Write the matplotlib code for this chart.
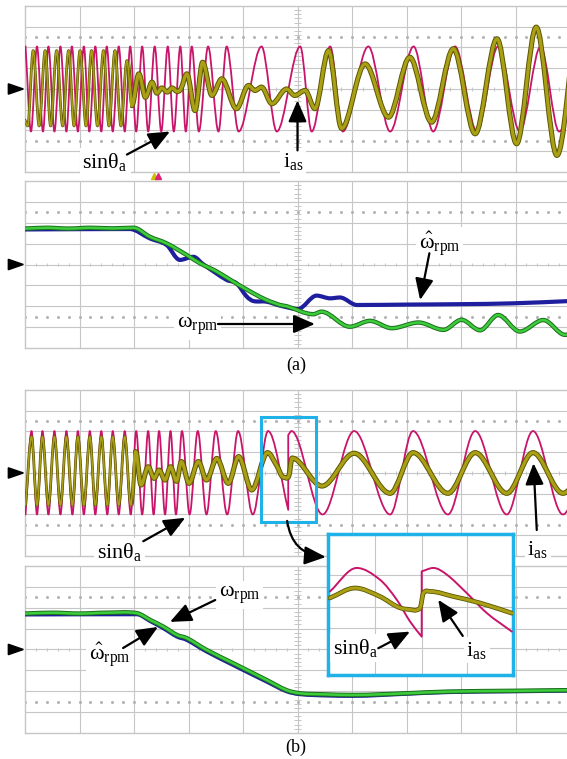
import numpy as np
import matplotlib
matplotlib.use('Agg')
import matplotlib.pyplot as plt
import matplotlib.patheffects as pe
from matplotlib.path import Path
from matplotlib.patches import PathPatch, Rectangle, Polygon

plt.rcParams['font.family'] = ['Liberation Serif', 'DejaVu Serif']
plt.rcParams['mathtext.fontset'] = 'stix'

# time axis in scope divisions (0..10), amplitudes in vertical divisions (-4..4)

# ---- (a) upper screen: sin(theta_a) reference and phase current ----
sin_a_peaks = [0.01, 0.22, 0.43, 0.65, 0.86, 1.08, 1.29, 1.50, 1.72, 1.93, 2.15, 2.38, 2.62,
               2.85, 3.06, 3.36, 3.70, 4.34, 5.05, 5.60, 6.30, 7.13, 7.89, 8.68, 9.46, 10.22]
sin_a_troughs = [0.11, 0.33, 0.54, 0.76, 0.97, 1.18, 1.40, 1.61, 1.83, 2.04, 2.26, 2.50, 2.73,
                 2.95, 3.19, 3.55, 3.92, 4.62, 5.26, 5.83, 6.70, 7.49, 8.29, 9.08, 9.80]
sin_a_hi, sin_a_lo = 2.05, -2.05

ias_a_t = [0.00, 0.05, 0.15, 0.26, 0.37, 0.47, 0.58, 0.69, 0.80, 0.90, 1.01, 1.12, 1.22, 1.33,
           1.44, 1.54, 1.65, 1.76, 1.87, 1.96, 2.09, 2.21, 2.33, 2.42, 2.51, 2.61, 2.70, 2.79,
           2.86, 2.97, 3.12, 3.26, 3.43, 3.61, 3.88, 4.10, 4.22, 4.34, 4.53, 4.80, 4.95, 5.14,
           5.32, 5.57, 5.81, 6.24, 6.67, 7.06, 7.46, 7.86, 8.26, 8.66, 9.02, 9.38, 9.76, 10.11]
ias_a_v = [-1.50, -1.78, 1.85, -1.78, 1.85, -1.78, 1.85, -1.78, 1.85, -1.78, 1.85, -1.78, 1.85,
           -1.78, 1.85, -1.78, 1.85, -1.78, 1.37, -0.80, 0.73, -0.40, 0.33, -0.20, 0.05, -0.15,
           0.05, -0.12, 0.00, 0.73, -1.04, 1.29, -0.31, 0.49, -0.95, 0.17, -0.07, 0.09, -0.71,
           0.00, -0.31, -0.07, -0.95, 1.85, -1.90, 1.21, -1.36, 1.53, -1.60, 1.94, -2.16, 2.42,
           -2.64, 2.98, -3.20, 3.30]

# ---- (a) lower screen: speed and estimated speed ----
w_a_t = [0.00, 0.40, 0.80, 1.20, 1.60, 1.99, 2.29, 2.60, 2.97, 3.21, 3.52, 3.82, 4.19, 4.43,
         4.68, 4.80, 5.29, 5.44, 5.96, 6.33, 6.73, 7.22, 7.68, 8.01, 8.35, 8.68, 9.08, 9.51,
         9.91, 10.30]
w_a_v = [1.72, 1.76, 1.72, 1.76, 1.73, 1.76, 1.33, 1.01, 0.45, 0.06, -0.34, -0.82, -1.38, -1.70,
         -1.94, -2.00, -2.38, -2.26, -2.98, -2.70, -3.05, -2.78, -3.13, -2.65, -3.15, -2.42,
         -3.21, -2.66, -3.37, -2.70]
west_a_t = [0.00, 1.92, 2.29, 2.60, 2.84, 3.09, 3.27, 3.70, 3.88, 4.07, 4.19, 4.43, 4.68, 5.01,
            5.35, 5.60, 5.78, 6.09, 7.00, 8.00, 8.95, 10.00]
west_a_v = [1.68, 1.70, 1.25, 0.93, 0.22, 0.37, 0.01, -0.74, -0.90, -1.54, -1.75, -1.78, -1.97,
            -2.13, -1.49, -1.62, -1.58, -1.94, -1.92, -1.90, -1.86, -1.75]

# ---- (b) upper screen ----
sin_b_t = [0.01, 0.12, 0.22, 0.32, 0.43, 0.54, 0.65, 0.76, 0.87, 0.97, 1.08, 1.19, 1.29, 1.40,
           1.51, 1.61, 1.72, 1.83, 1.94, 2.04, 2.15, 2.26, 2.36, 2.46, 2.57, 2.67, 2.77, 2.88,
           3.02, 3.17, 3.33, 3.50, 3.71, 3.91, 4.18, 4.46, 4.83, 4.83, 4.89, 5.46, 6.04, 6.70,
           7.12, 7.76, 8.26, 8.84, 9.32, 9.87, 10.37]
sin_b_v = [-2.00, 2.02, -2.00, 2.02, -2.00, 2.02, -2.00, 2.02, -2.00, 2.02, -2.00, 2.02, -2.00,
           2.02, -2.00, 2.02, -2.00, 2.02, -2.00, 2.02, -2.00, 2.02, -2.00, 2.02, -2.00, 2.02,
           -2.00, 2.02, -2.00, 2.02, -2.00, 2.02, -2.00, 2.02, -2.00, 2.02, -1.78, 1.83, 2.02,
           -2.00, 2.02, -2.00, 2.02, -2.00, 2.02, -2.00, 2.02, -2.00, 2.02]

ias_b_t = [0.01, 0.12, 0.22, 0.32, 0.43, 0.54, 0.65, 0.76, 0.87, 0.97, 1.08, 1.19, 1.29, 1.40,
           1.51, 1.61, 1.72, 1.83, 1.94, 2.03, 2.13, 2.26, 2.37, 2.46, 2.57, 2.67, 2.78, 2.87,
           3.01, 3.18, 3.33, 3.52, 3.73, 3.92, 4.16, 4.45, 4.62, 4.74, 4.84, 4.90, 5.45, 6.04,
           6.70, 7.12, 7.76, 8.26, 8.84, 9.32, 9.87, 10.37]
ias_b_v = [-1.55, 1.75, -1.55, 1.75, -1.55, 1.75, -1.55, 1.75, -1.55, 1.75, -1.55, 1.75, -1.55,
           1.75, -1.55, 1.75, -1.55, 1.75, -1.55, 1.03, -0.58, 0.30, -0.26, 0.14, -0.34, 0.30,
           -0.40, 0.55, -0.50, 0.55, -0.34, 0.70, -0.50, 0.79, -0.82, 0.98, 0.35, -0.20, -0.15,
           0.72, -0.63, 0.95, -0.98, 0.98, -0.98, 0.98, -0.98, 0.98, -0.98, 0.98]

# ---- (b) lower screen ----
w_b_t = [0.00, 0.50, 1.00, 1.50, 2.05, 2.30, 2.54, 2.79, 2.97, 3.33, 3.82, 4.43, 4.80, 5.05,
         5.50, 6.02, 7.00, 7.74, 9.00, 10.00]
w_b_v = [1.72, 1.76, 1.72, 1.76, 1.74, 1.41, 1.09, 0.69, 0.54, -0.02, -0.66, -1.46, -1.95,
         -2.10, -2.15, -2.18, -2.10, -2.02, -1.98, -1.95]
west_b_t = [0.00, 2.05, 2.30, 2.54, 2.79, 2.97, 3.33, 3.82, 4.43, 4.80, 5.05, 5.50, 6.02, 7.00,
            7.74, 9.00, 10.00]
west_b_v = [1.68, 1.69, 1.36, 1.02, 0.62, 0.46, -0.09, -0.74, -1.53, -2.00, -2.14, -2.20,
            -2.22, -2.12, -2.04, -2.00, -1.97]

# ---- zoomed window around the phase jump ----
zoom_sin_t = [4.339, 4.485, 4.612, 4.704, 4.776, 4.840, 4.840, 4.904, 4.977, 5.086, 5.196, 5.332]
zoom_sin_v = [0.72, 2.02, 1.37, 0.26, -0.94, -1.78, 1.83, 2.02, 1.65, 0.63, -0.48, -1.50]
zoom_ias_t = [4.339, 4.476, 4.612, 4.704, 4.758, 4.831, 4.849, 4.886, 5.013, 5.159, 5.332]
zoom_ias_v = [0.36, 0.91, 0.44, -0.11, -0.26, -0.20, 0.63, 0.72, 0.44, 0.08, -0.48]

PINK = '#c8146a'
OLIVE = '#aaa016'
OLIVE_EDGE = '#5c5600'
GREEN = '#3ccc3c'
GREEN_EDGE = '#1b6e1b'
BLUE = '#1e1e9e'
GRID = '#c6c6c6'
CYAN = '#1fb2e8'


def trace_path(ts, vs):
    # piecewise cubic through the samples, flat at turning points, straight at jumps
    n = len(ts)
    m = []
    for i in range(n):
        left = i > 0 and ts[i - 1] != ts[i]
        right = i < n - 1 and ts[i + 1] != ts[i]
        if left and right:
            if (vs[i] - vs[i - 1]) * (vs[i + 1] - vs[i]) <= 0:
                m.append(0.0)
            else:
                m.append((vs[i + 1] - vs[i - 1]) / (ts[i + 1] - ts[i - 1]))
        elif right:
            m.append((vs[i + 1] - vs[i]) / (ts[i + 1] - ts[i]))
        elif left:
            m.append((vs[i] - vs[i - 1]) / (ts[i] - ts[i - 1]))
        else:
            m.append(0.0)
    verts = [(ts[0], vs[0])]
    codes = [Path.MOVETO]
    for i in range(n - 1):
        h = ts[i + 1] - ts[i]
        if h == 0:
            verts.append((ts[i + 1], vs[i + 1]))
            codes.append(Path.LINETO)
            continue
        verts += [(ts[i] + h / 3, vs[i] + m[i] * h / 3),
                  (ts[i + 1] - h / 3, vs[i + 1] - m[i + 1] * h / 3),
                  (ts[i + 1], vs[i + 1])]
        codes += [Path.CURVE4] * 3
    return Path(verts, codes)


def draw_trace(ax, ts, vs, color, lw, edge=None, edge_lw=None, z=3, span=None):
    patch = PathPatch(trace_path(ts, vs), fill=False, ec=color, lw=lw, zorder=z,
                      capstyle='round', joinstyle='round')
    if edge:
        patch.set_path_effects([pe.Stroke(linewidth=edge_lw, foreground=edge), pe.Normal()])
    ax.add_patch(patch)
    if span is not None:
        lo, hi = ax.get_ylim()
        patch.set_clip_path(Rectangle((span[0], lo), span[1] - span[0], hi - lo,
                                      transform=ax.transData))


def current_trace(ax, ts, vs, t_split):
    # thin while the waveform is dense, heavier (noisy band) once it slows down
    draw_trace(ax, ts, vs, OLIVE, 1.1, OLIVE_EDGE, 2.0, z=4, span=(0, t_split))
    draw_trace(ax, ts, vs, OLIVE, 2.3, OLIVE_EDGE, 3.7, z=4, span=(t_split, 10))


def scope(rect, z):
    ax = fig.add_axes(rect, zorder=z)
    ax.set_xlim(0, 10)
    ax.set_ylim(-4, 4)
    ax.set_facecolor('none')
    ax.set_xticks([])
    ax.set_yticks([])
    for s in ax.spines.values():
        s.set_color(GRID)
        s.set_linewidth(1.0)
    for x in range(1, 10):
        ax.axvline(x, color=GRID, lw=0.8, zorder=1)
    for y in range(-3, 4):
        ax.axhline(y, color=GRID, lw=0.8, zorder=1)
    fine_x = np.arange(0, 10.01, 0.2)
    fine_y = np.arange(-4, 4.01, 0.2)
    ax.vlines(fine_x, -0.09, 0.09, color=GRID, lw=0.8, zorder=1)
    ax.hlines(fine_y, 4.94, 5.06, color=GRID, lw=0.7, zorder=1)
    for y in (-2.5, 2.5):
        ax.plot(fine_x, np.full_like(fine_x, y), ls='none', marker='s', ms=1.0,
                color='#b0b0b0', zorder=1)
    ax.add_patch(Polygon([(-0.306, 0.25), (-0.306, -0.25), (-0.03, 0.0)], closed=True,
                         color='k', clip_on=False, zorder=4))
    return ax


def label(ax, x, y, s, size=16):
    ax.text(x, y, s, ha='center', va='center', fontsize=size, zorder=6, clip_on=False,
            bbox=dict(fc='white', ec='none', pad=2.0))


def arrow(ax, tail, head, rad=0.0):
    ax.annotate('', xy=head, xytext=tail, annotation_clip=False, zorder=7,
                arrowprops=dict(arrowstyle='-|>,head_length=0.65,head_width=0.28',
                                mutation_scale=20, lw=1.6, color='k', shrinkA=0, shrinkB=0,
                                connectionstyle=f'arc3,rad={rad}'))


SIN = 'sinθ$_\\mathregular{a}$'
IAS = 'i$_\\mathregular{as}$'
W = 'ω$_\\mathregular{rpm}$'
WHAT = '$\\hat{\\mathregular{ω}}_\\mathregular{rpm}$'

fig = plt.figure(figsize=(5.67, 7.59), dpi=100)

ax_a2 = scope([0.0441, 0.5415, 0.9612, 0.2200], 1)
ax_a1 = scope([0.0441, 0.7734, 0.9612, 0.2187], 2)
ax_b2 = scope([0.0441, 0.0343, 0.9612, 0.2200], 1)
ax_b1 = scope([0.0441, 0.2675, 0.9612, 0.2187], 2)

# (a) currents
sin_a = sorted([(t, sin_a_hi) for t in sin_a_peaks] + [(t, sin_a_lo) for t in sin_a_troughs])
draw_trace(ax_a1, [p[0] for p in sin_a], [p[1] for p in sin_a], PINK, 1.3)
current_trace(ax_a1, ias_a_t, ias_a_v, 1.92)
ax_a1.plot([2.37], [-4.17], marker='^', ms=4, color='#c8c000', clip_on=False, zorder=5)
ax_a1.plot([2.44], [-4.17], marker='^', ms=4, color='#e0207a', clip_on=False, zorder=5)
label(ax_a1, 1.47, -3.5, SIN)
arrow(ax_a1, (1.87, -3.16), (2.66, -2.05))
label(ax_a1, 4.92, -3.5, IAS)
arrow(ax_a1, (5.0, -2.96), (5.0, -0.55))

# (a) speeds
draw_trace(ax_a2, west_a_t, west_a_v, BLUE, 3.0)
draw_trace(ax_a2, w_a_t, w_a_v, GREEN, 1.8, GREEN_EDGE, 3.2, z=4)
label(ax_a2, 7.61, 1.0, WHAT)
arrow(ax_a2, (7.42, 0.54), (7.25, -1.70))
label(ax_a2, 3.17, -2.94, W)
arrow(ax_a2, (3.54, -2.85), (5.32, -2.85))

# (b) currents
draw_trace(ax_b1, sin_b_t, sin_b_v, PINK, 1.3)
current_trace(ax_b1, ias_b_t, ias_b_v, 1.99)
ax_b1.add_patch(Rectangle((4.33, -2.35), 1.01, 5.03, fill=False, ec=CYAN, lw=2.2, zorder=5))
label(ax_b1, 1.74, -3.8, SIN)
arrow(ax_b1, (2.17, -3.29), (2.94, -2.16))
label(ax_b1, 9.41, -3.71, IAS)
arrow(ax_b1, (9.39, -2.75), (9.33, 0.47))
arrow(ax_b1, (4.81, -2.31), (5.52, -4.05), rad=0.4)

# (b) speeds
draw_trace(ax_b2, west_b_t, west_b_v, BLUE, 3.0)
draw_trace(ax_b2, w_b_t, w_b_v, GREEN, 1.8, GREEN_EDGE, 3.2, z=4)
label(ax_b2, 3.94, 2.61, W)
arrow(ax_b2, (3.49, 2.37), (2.66, 1.32))
label(ax_b2, 1.56, -0.26, WHAT)
arrow(ax_b2, (1.80, 0.07), (2.44, 1.08))

# zoomed window
ax_z = fig.add_axes([0.5790, 0.1107, 0.3263, 0.1858], zorder=5)
ax_z.set_xlim(4.33, 5.34)
ax_z.set_ylim(-3.9, 3.9)
ax_z.set_facecolor('white')
ax_z.set_xticks([])
ax_z.set_yticks([])
for s in ax_z.spines.values():
    s.set_color(CYAN)
    s.set_linewidth(2.5)
for x in (4.585, 4.84, 5.086):
    ax_z.axvline(x, color=GRID, lw=0.8, zorder=1)
for y in (1.65, -0.13, -1.29, -2.42):
    ax_z.axhline(y, color=GRID, lw=0.8, zorder=1)
draw_trace(ax_z, zoom_sin_t, zoom_sin_v, PINK, 1.4)
draw_trace(ax_z, zoom_ias_t, zoom_ias_v, OLIVE, 2.2, OLIVE_EDGE, 3.4, z=4)
label(ax_z, 4.48, -2.41, SIN)
arrow(ax_z, (4.603, -2.42), (4.776, -1.5))
label(ax_z, 5.14, -2.52, IAS)
arrow(ax_z, (5.064, -1.74), (4.93, 0.26))

fig.text(0.522, 0.519, '(a)', ha='center', va='center', fontsize=13)
fig.text(0.522, 0.016, '(b)', ha='center', va='center', fontsize=13)

fig.savefig('out.png', dpi=100)
